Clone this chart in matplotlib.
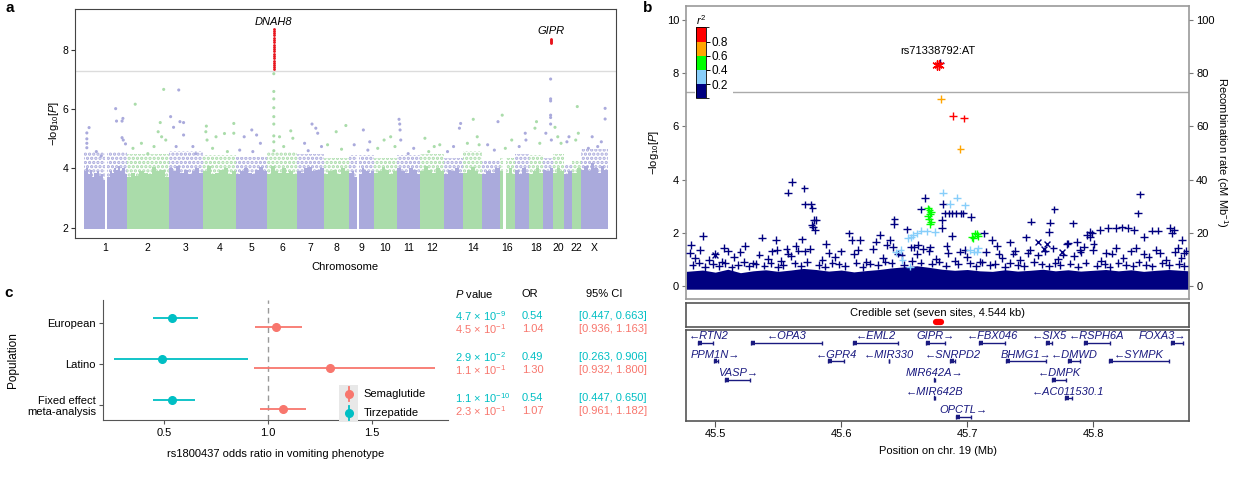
import numpy as np
import matplotlib
matplotlib.use("Agg")
import matplotlib.pyplot as plt
from matplotlib.colors import ListedColormap, BoundaryNorm
from matplotlib.patches import Rectangle
from matplotlib.lines import Line2D
import matplotlib.colorbar as mcolorbar

plt.rcParams['font.family'] = ['Liberation Sans', 'DejaVu Sans']
plt.rcParams['mathtext.fontset'] = 'custom'
plt.rcParams['mathtext.rm'] = 'Liberation Sans'
plt.rcParams['mathtext.it'] = 'Liberation Sans:italic'
plt.rcParams['mathtext.bf'] = 'Liberation Sans:bold'
plt.rcParams['hatch.linewidth'] = 1.6

W, H = 1247, 478

# ---- panel a : genome-wide scan ----
chrom_names = ['1', '2', '3', '4', '5', '6', '7', '8', '9', '10', '11', '12', '13', '14',
               '15', '16', '17', '18', '19', '20', '21', '22', 'X']
chrom_len = [249.3, 243.2, 198.0, 191.2, 180.9, 171.1, 159.1, 146.4, 141.2, 135.5, 135.0,
             133.9, 115.2, 107.3, 102.5, 90.4, 81.2, 78.1, 59.1, 63.0, 48.1, 51.3, 155.3]
chrom_ticks = ['1', '2', '3', '4', '5', '6', '7', '8', '9', '10', '11', '12', '14', '16',
               '18', '20', '22', 'X']

# top of the dense cloud, in equal bins along each chromosome (nan = no SNPs)
bulk_top = [
    [3.9, 4.0, 3.8, 3.95, 3.7, 3.85, 3.9, 3.75, 3.8, 3.6, np.nan, 3.7, 3.9, 3.85, 4.0, 3.95, 4.1, 3.9, 4.0, 3.8],
    [3.7, 3.85, 3.75, 3.9, 3.85, 3.8, 4.05, 3.9, 3.95, 3.7],
    [4.0, 3.9, 4.1, 3.85, 3.95, 3.8, 3.9, 4.0, 3.85],
    [3.9, 4.1, 3.8, 3.85, 3.95, 4.0, 3.8, 3.9],
    [3.8, 3.9, 4.0, 3.85, 3.8, 3.95, 4.05, 3.9],
    [3.8, 4.1, 3.9, 3.85, 4.0, 3.85, 3.9, 3.8],
    [3.9, 3.85, 4.0, 4.05, 3.9, 3.95, 4.0],
    [3.8, 3.9, 3.95, 3.8, 4.0, 3.9],
    [3.85, 3.9, 3.7, np.nan, 3.8, 4.0, 3.95, 3.9, 3.85, 3.9],
    [3.85, 3.9, 4.05, 3.95, 3.8, 3.9],
    [4.0, 3.9, 3.85, 4.0, 3.95, 3.8],
    [3.9, 4.1, 3.95, 3.85, 4.0, 3.9],
    [3.8, 3.95, 3.9, 4.0, 3.85],
    [3.85, 3.95, 4.05, 3.9, 3.8],
    [3.8, 3.9, 3.85, 4.0],
    [3.9, np.nan, 3.85, 4.0, 3.8],
    [3.95, 3.8, 4.0, 3.85],
    [3.8, 3.9, 4.0, 3.85],
    [3.95, 3.9, 4.0],
    [3.85, 4.0, 3.9],
    [3.8, 3.9],
    [3.85, 4.0],
    [3.95, 4.1, 3.9, 4.2, 4.0, 3.85, 4.1, 3.95],
]
# upper edge of the looser fringe of points above the dense cloud, one per chromosome
fringe_top = [4.55, 4.5, 4.6, 4.45, 4.4, 4.55, 4.5, 4.35, 4.45, 4.35, 4.45, 4.5, 4.35, 4.6,
              4.25, 4.35, 4.5, 4.45, 4.35, 4.5, 4.15, 4.3, 4.65]

# scattered SNPs above the dense cloud: chromosome, position (Mb), -log10 P
top_chr = ['1'] * 14 + ['2'] * 10 + ['3'] * 9 + ['4'] * 9 + ['5'] * 6 + ['6'] * 13 + ['7'] * 6 + \
          ['8'] * 4 + ['9'] * 4 + ['10'] * 4 + ['11'] * 6 + ['12'] * 4 + ['13'] * 4 + ['14'] * 4 + \
          ['15'] * 3 + ['16'] * 3 + ['17'] * 3 + ['18'] * 3 + ['19'] * 8 + ['20'] * 3 + ['21'] * 2 + \
          ['22'] * 3 + ['X'] * 6
top_pos = [31, 18, 18, 18, 18, 185, 190, 222, 227, 222, 229, 242, 73, 101,
           49, 194, 214, 182, 202, 158, 85, 122, 226, 36,
           11, 58, 65, 86, 28, 86, 140, 157, 43,
           20, 17, 24, 76, 125, 179, 179, 56, 142,
           92, 120, 48, 142, 22, 98,
           38.7, 38.7, 38.7, 38.7, 38.7, 38.7, 38.7, 38.7, 38.7, 96, 137, 149, 72,
           89, 111, 122, 46, 144, 67,
           126, 70, 20, 101,
           81, 118, 28, 107,
           98, 60, 23, 123,
           11, 15, 17, 21, 96, 64,
           26, 80, 112, 48,
           99, 92, 58, 23,
           57, 80, 23, 91,
           93, 33, 72,
           15, 70, 33,
           58, 62, 23,
           42, 33, 61,
           45.7, 45.7, 45.7, 45.7, 45.7, 45.7, 18, 50,
           12, 47, 28,
           30, 18,
           30, 36, 21,
           140, 140, 65, 97, 43, 118]
top_p = [5.38, 5.2, 5.0, 4.85, 4.7, 6.02, 5.6, 5.6, 5.69, 5.04, 4.96, 4.83, 4.57, 4.42,
         6.17, 5.55, 6.67, 5.24, 5.07, 4.74, 4.85, 4.5, 4.96, 4.68,
         5.75, 6.65, 5.58, 5.55, 5.39, 5.13, 4.74, 4.5, 4.74,
         5.43, 5.24, 4.96, 5.07, 5.18, 5.52, 5.19, 4.68, 4.57,
         5.3, 5.13, 5.07, 4.85, 4.62, 4.57,
         7.2, 6.6, 6.35, 6.05, 5.75, 5.5, 5.1, 4.9, 4.6, 4.74, 5.27, 5.02, 5.07,
         5.5, 5.36, 5.19, 4.85, 4.74, 4.6,
         5.45, 5.24, 4.8, 4.65,
         5.3, 4.9, 4.8, 4.62,
         5.07, 4.96, 4.68, 4.74,
         5.66, 5.5, 5.3, 4.96, 4.68, 4.5,
         5.02, 4.74, 4.8, 4.57,
         5.52, 5.36, 4.74, 4.57,
         5.66, 5.07, 4.85, 4.8,
         5.58, 4.8, 4.62,
         5.8, 4.96, 4.68,
         5.19, 4.96, 4.74,
         5.58, 5.36, 4.85,
         7.02, 6.35, 6.28, 5.8, 5.72, 5.5, 5.19, 4.96,
         5.39, 4.85, 5.07,
         5.07, 4.9,
         6.09, 5.19, 4.96,
         6.03, 5.67, 5.07, 4.74, 4.68, 4.9]

# genome-wide significant SNPs (red)
sig_chr = ['6'] * 19 + ['19'] * 5
sig_pos = [38.7] * 19 + [45.7] * 5
sig_p = [7.36, 7.42, 7.5, 7.57, 7.64, 7.72, 7.8, 7.87, 7.95, 8.02, 8.1, 8.18, 8.26, 8.34,
         8.42, 8.5, 8.58, 8.65, 8.72,
         8.24, 8.27, 8.3, 8.33, 8.36]
gene_hits = ['DNAH8', 'GIPR']
gene_hit_chr = ['6', '19']
gene_hit_pos = [38.7, 45.7]
gene_hit_y = [8.94, 8.64]

# ---- panel b : regional plot at GIPR ----
band_x = [45.477, 45.49, 45.50, 45.51, 45.52, 45.53, 45.54, 45.55, 45.56, 45.57, 45.58,
          45.59, 45.60, 45.61, 45.62, 45.63, 45.64, 45.65, 45.66, 45.67, 45.68, 45.69,
          45.70, 45.71, 45.72, 45.73, 45.74, 45.75, 45.76, 45.77, 45.78, 45.79, 45.80,
          45.81, 45.82, 45.83, 45.84, 45.85, 45.86, 45.876]
band_top = [0.55, 0.6, 0.52, 0.63, 0.5, 0.57, 0.61, 0.55, 0.6, 0.66, 0.62,
            0.56, 0.6, 0.53, 0.58, 0.62, 0.68, 0.72, 0.76, 0.7, 0.63, 0.59,
            0.62, 0.57, 0.55, 0.61, 0.56, 0.59, 0.63, 0.57, 0.61, 0.56, 0.59,
            0.62, 0.57, 0.61, 0.55, 0.59, 0.62, 0.57]

snp_pos = [45.5610, 45.5578, 45.5708, 45.5711, 45.5762, 45.5771, 45.5784, 45.5778, 45.5790,
           45.5800, 45.5765, 45.6667, 45.6632, 45.6422, 45.6419, 45.6524, 45.6810, 45.6800,
           45.6800, 45.6822, 45.6854, 45.6879, 45.6911, 45.6949, 45.6968, 45.7032, 45.6784,
           45.7133, 45.7197, 45.7340, 45.7467, 45.8371, 45.8356, 45.7692, 45.7505, 45.7657,
           45.7651, 45.7838, 45.7990, 45.8054, 45.8117, 45.8180, 45.8229, 45.8276, 45.8324,
           45.7975, 45.8467, 45.8514, 45.8610, 45.8640, 45.8705, 45.4905, 45.5371, 45.6060,
           45.4810, 45.5070, 45.5238, 45.5483, 45.5689, 45.5879, 45.6149, 45.6276, 45.6308,
           45.5488, 45.5567, 45.5638, 45.5712, 45.6082, 45.6135, 45.6386, 45.6413, 45.6360,
           45.6704, 45.6836, 45.6878, 45.6942, 45.7235, 45.7367, 45.7500, 45.7685, 45.7791,
           45.7870, 45.7897, 45.8003, 45.7976, 45.7950, 45.8403, 45.8625, 45.8673, 45.8720,
           45.8530, 45.8340, 45.8180, 45.8102, 45.7927, 45.7800,
           45.4840, 45.4950, 45.5050, 45.5150, 45.5300, 45.5420, 45.5520, 45.5600, 45.5850,
           45.5950, 45.6200, 45.6330, 45.6480, 45.6600, 45.6750, 45.6900, 45.7000, 45.7100,
           45.7280, 45.7420, 45.7560, 45.7720, 45.7850, 45.8060, 45.8240, 45.8440, 45.8580,
           45.8700, 45.6610, 45.6650, 45.6580,
           45.4800, 45.4880, 45.5000, 45.5100, 45.5200, 45.5350, 45.5450, 45.5580, 45.5660,
           45.5750, 45.5900, 45.6000, 45.6100, 45.6250, 45.6450, 45.6550, 45.6700, 45.6850,
           45.6980, 45.7150, 45.7250, 45.7380, 45.7480, 45.7620, 45.7760, 45.7900, 45.8000,
           45.8150, 45.8300, 45.8400, 45.8500, 45.8650, 45.8740,
           45.4820, 45.4870, 45.4920, 45.4980, 45.5030, 45.5080, 45.5130, 45.5180, 45.5230,
           45.5270, 45.5320, 45.5390, 45.5440, 45.5500, 45.5540, 45.5630, 45.5680, 45.5730,
           45.5820, 45.5870, 45.5930, 45.5980, 45.6030, 45.6120, 45.6170, 45.6230, 45.6290,
           45.6350, 45.6400, 45.6500, 45.6560, 45.6630, 45.6720, 45.6780, 45.6830, 45.6930,
           45.7020, 45.7070, 45.7120, 45.7180, 45.7220, 45.7300, 45.7340, 45.7400, 45.7450,
           45.7530, 45.7590, 45.7650, 45.7700, 45.7740, 45.7820, 45.7880, 45.7940, 45.8030,
           45.8090, 45.8130, 45.8200, 45.8260, 45.8320, 45.8360, 45.8420, 45.8470, 45.8550,
           45.8600, 45.8680, 45.8720,
           45.6810, 45.6921, 45.6863, 45.6981, 45.6530, 45.6557, 45.6570, 45.6600, 45.6637,
           45.6680, 45.6745, 45.7024, 45.7077, 45.7054, 45.7086, 45.6471, 45.6485, 45.6545,
           45.6435,
           45.6689, 45.6700, 45.6705, 45.6690, 45.6695, 45.6712, 45.6705, 45.6715,
           45.7035, 45.7050, 45.7060, 45.7077, 45.7086,
           45.6790, 45.6946, 45.6886, 45.6975]
snp_logp = [3.92, 3.51, 3.67, 3.07, 3.07, 2.92, 2.48, 2.23, 2.10,
            2.48, 2.29, 3.30, 2.88, 2.50, 2.33, 2.13, 3.08, 2.48,
            2.17, 2.73, 2.73, 2.73, 2.73, 2.73, 2.73, 2.60, 8.40,
            1.98, 1.73, 1.64, 1.83, 3.44, 2.73, 2.88, 2.42, 2.38,
            2.02, 2.35, 1.98, 2.10, 2.17, 2.19, 2.20, 2.17, 2.10,
            1.83, 2.08, 2.08, 2.19, 2.10, 1.73, 1.88, 1.82, 1.98,
            1.54, 1.42, 1.50, 1.73, 1.75, 1.57, 1.73, 1.67, 1.92,
            1.35, 1.40, 1.50, 1.30, 1.72, 1.35, 1.72, 1.47, 1.54,
            1.45, 1.50, 1.88, 1.29, 1.50, 1.22, 1.35, 1.41, 1.59,
            1.66, 1.35, 1.59, 2.04, 1.92, 1.85, 2.00, 1.42, 1.23,
            1.23, 1.42, 1.42, 1.23, 1.48, 1.60,
            1.05, 0.98, 0.92, 1.10, 0.85, 1.02, 0.95, 1.12, 0.98,
            1.08, 0.90, 1.05, 1.15, 1.20, 1.02, 0.95, 1.10, 0.92,
            1.05, 0.98, 1.15, 1.00, 1.12, 0.95, 1.05, 1.10, 0.98,
            1.05, 1.55, 1.38, 1.45,
            1.25, 1.35, 1.20, 1.30, 1.28, 1.18, 1.30, 1.22, 1.33,
            1.40, 1.25, 1.30, 1.20, 1.38, 1.22, 1.45, 1.30, 1.25,
            1.35, 1.28, 1.20, 1.32, 1.24, 1.30, 1.18, 1.26, 1.35,
            1.22, 1.30, 1.20, 1.36, 1.28, 1.32,
            0.78, 0.88, 0.72, 0.82, 0.75, 0.86, 0.70, 0.80, 0.90,
            0.74, 0.83, 0.77, 0.87, 0.72, 0.80, 0.85, 0.76, 0.91,
            0.79, 0.73, 0.86, 0.81, 0.75, 0.88, 0.72, 0.84, 0.78,
            0.92, 0.86, 0.80, 0.95, 0.88, 0.84, 0.92, 0.77, 0.82,
            0.85, 0.74, 0.89, 0.78, 0.83, 0.72, 0.87, 0.80, 0.76,
            0.90, 0.81, 0.74, 0.86, 0.79, 0.84, 0.73, 0.88, 0.77,
            0.82, 0.71, 0.86, 0.79, 0.75, 0.89, 0.80, 0.74, 0.85,
            0.78, 0.83, 0.76,
            3.51, 3.32, 3.08, 3.03, 1.80, 1.83, 1.91, 1.98, 2.08,
            2.05, 2.04, 1.35, 1.29, 1.29, 1.41, 1.35, 0.98, 0.73,
            1.26,
            2.92, 2.85, 2.70, 2.62, 2.50, 2.42, 2.33, 2.78,
            1.85, 1.79, 1.98, 1.95, 1.88,
            7.02, 5.15, 6.39, 6.30]
snp_r2 = [0.1] * 226 + [0.3] * 19 + [0.5] * 13 + [0.7, 0.7, 0.9, 0.9]

xsnp_pos = [45.4997, 45.7566, 45.7606, 45.7632, 45.7751]
xsnp_logp = [1.15, 1.66, 1.40, 1.59, 1.28]

lead_name = 'rs71338792:AT'
lead_pos = [45.6759, 45.6775]
lead_logp = [8.31, 8.31]

cred_start, cred_end = 45.6751, 45.6796

r2_bounds = [0, 0.2, 0.4, 0.6, 0.8, 1.0]
r2_colors = ['#000080', '#87CEFA', '#00FF00', '#FFA500', '#FF0000']

gene_names = ['RTN2', 'OPA3', 'EML2', 'GIPR', 'FBX046', 'SIX5', 'RSPH6A', 'FOXA3',
              'PPM1N', 'GPR4', 'MIR330', 'SNRPD2', 'BHMG1', 'DMWD', 'SYMPK',
              'VASP', 'MIR642A', 'DMPK', 'MIR642B', 'AC011530.1', 'OPCTL']
gene_start = [45.4863, 45.5286, 45.6092, 45.6673, 45.7095, 45.7629, 45.7927, 45.8619,
              45.4987, 45.5895, 45.6379, 45.6863, 45.7308, 45.7800, 45.8124,
              45.5079, 45.6738, 45.7673, 45.6738, 45.7775, 45.6911]
gene_end = [45.4981, 45.5848, 45.6451, 45.6822, 45.7298, 45.7673, 45.8133, 45.8714,
            45.5019, 45.6022, 45.6383, 45.6905, 45.7625, 45.7895, 45.8600,
            45.5276, 45.6742, 45.7784, 45.6742, 45.7832, 45.7032]
gene_strand = ['-', '-', '-', '+', '-', '-', '-', '+',
               '+', '-', '-', '-', '+', '-', '-',
               '+', '+', '-', '-', '-', '+']
gene_row = [0, 0, 0, 0, 0, 0, 0, 0,
            1, 1, 1, 1, 1, 1, 1,
            2, 2, 2, 3, 3, 4]

# ---- panel c : odds ratios ----
populations = ['European', 'Latino', 'Fixed effect\nmeta-analysis']
tirz_or = [0.54, 0.49, 0.54]
tirz_lo = [0.447, 0.263, 0.447]
tirz_hi = [0.663, 0.906, 0.650]
tirz_p = [4.7e-9, 2.9e-2, 1.1e-10]
sema_or = [1.04, 1.30, 1.07]
sema_lo = [0.936, 0.932, 0.961]
sema_hi = [1.163, 1.800, 1.182]
sema_p = [4.5e-1, 1.1e-1, 2.3e-1]

PURPLE = '#AAAADC'
GREEN = '#AADCAA'
TEAL = '#00BFC4'
SALMON = '#F8766D'
NAVY = '#1A1A80'


def fbox(l, t, r, b):
    return [l / W, 1 - b / H, (r - l) / W, (b - t) / H]


def sci(p):
    e = int(np.floor(np.log10(p)))
    m = p / 10 ** e
    return '%.1f \u00d7 10$^{%d}$' % (m, e)


def draw_manhattan(fig):
    ax = fig.add_axes(fbox(75.1, 9.3, 615.7, 237.7))
    offsets = np.concatenate([[0], np.cumsum(chrom_len)[:-1]])
    off = dict(zip(chrom_names, offsets))
    for i, name in enumerate(chrom_names):
        col = PURPLE if i % 2 == 0 else GREEN
        h = np.array(bulk_top[i])
        n = len(h)
        w = chrom_len[i] / n
        xs = offsets[i] + (np.arange(n) + 0.5) * w
        ok = ~np.isnan(h)
        ax.bar(xs[ok], h[ok] - 1.95, width=w, bottom=1.95, color=col, linewidth=0)
        # looser fringe of points drawn as a dotted band
        ax.bar(xs[ok], fringe_top[i] - h[ok], width=w, bottom=h[ok], facecolor='none',
               edgecolor=col, hatch='....', linewidth=0)
    colmap = {n: (PURPLE if i % 2 == 0 else GREEN) for i, n in enumerate(chrom_names)}
    tx = [off[c] + p for c, p in zip(top_chr, top_pos)]
    ax.scatter(tx, top_p, s=5, c=[colmap[c] for c in top_chr], linewidths=0)
    sx = [off[c] + p for c, p in zip(sig_chr, sig_pos)]
    ax.scatter(sx, sig_p, s=4, c='#E8141C', marker='o', linewidths=0)
    for g, c, p, y in zip(gene_hits, gene_hit_chr, gene_hit_pos, gene_hit_y):
        ax.text(off[c] + p, y, g, ha='center', va='center', fontsize=8, style='italic')
    ax.axhline(7.3, color='#DCDCDC', lw=1, zorder=0)
    ax.set_xlim(-50, sum(chrom_len) + 46)
    ax.set_ylim(1.662, 9.375)
    centers = {n: offsets[i] + chrom_len[i] / 2 for i, n in enumerate(chrom_names)}
    ax.set_xticks([centers[c] for c in chrom_ticks])
    ax.set_xticklabels(chrom_ticks)
    ax.set_yticks([2, 4, 6, 8])
    ax.tick_params(axis='x', length=0, pad=4, labelsize=7.5)
    ax.tick_params(axis='y', length=3, width=0.8, pad=2, labelsize=7.5, color='#333333')
    for s in ax.spines.values():
        s.set_color('#444444')
        s.set_linewidth(0.8)
    ax.set_xlabel('Chromosome', fontsize=8, labelpad=6)
    ax.set_ylabel('\u2212log$_{10}$[$P$]', fontsize=8, labelpad=1)


def draw_region(fig):
    ax = fig.add_axes(fbox(686, 6, 1189.3, 299.3))
    xlim = (45.4768, 45.8763)
    ax.set_xlim(*xlim)
    ax.set_ylim(-0.5, 10.526)
    ax.fill_between(band_x, -0.12, band_top, color='#000080', lw=0, zorder=1)
    cmap = ListedColormap(r2_colors)
    norm = BoundaryNorm(r2_bounds, cmap.N)
    cols = [cmap(norm(v)) for v in snp_r2]
    ax.scatter(snp_pos, snp_logp, marker='+', s=30, c=cols, linewidths=1.0, zorder=3)
    ax.scatter(xsnp_pos, xsnp_logp, marker='x', s=18, c='#000080', linewidths=1.0, zorder=3)
    ax.scatter(lead_pos, lead_logp, marker=(6, 2, 0), s=45, c='#FF0000', linewidths=1.0, zorder=4)
    ax.text(np.mean(lead_pos), 8.83, lead_name, ha='center', va='center', fontsize=8)
    ax.axhline(7.3, color='#AAAAAA', lw=1, zorder=0)
    ax.set_xticks([])
    ax.set_yticks([0, 2, 4, 6, 8, 10])
    ax.tick_params(axis='y', length=3, pad=2, labelsize=8, color='#777777')
    ax.set_ylabel('\u2212log$_{10}$[$P$]', fontsize=8, labelpad=4)
    for s in ax.spines.values():
        s.set_color('#999999')
        s.set_linewidth(1.2)
    ax2 = ax.twinx()
    ax2.set_ylim(-5, 105.26)
    ax2.set_yticks([0, 20, 40, 60, 80, 100])
    ax2.tick_params(axis='y', length=3, pad=2, labelsize=8, color='#777777')
    ax2.set_ylabel('Recombination rate (cM Mb$^{-1}$)', fontsize=8, rotation=270, labelpad=11)
    for s in ax2.spines.values():
        s.set_visible(False)

    # r2 legend
    fig.add_artist(Rectangle((695 / W, 1 - 100 / H), 38 / W, 88 / H, transform=fig.transFigure,
                             facecolor='white', edgecolor='none', zorder=3))
    cax = fig.add_axes(fbox(696, 27.3, 706, 98.3), zorder=4)
    cb = mcolorbar.ColorbarBase(cax, cmap=cmap, norm=norm, boundaries=r2_bounds,
                                ticks=[0.2, 0.4, 0.6, 0.8], orientation='vertical')
    cb.outline.set_linewidth(0.6)
    cax.tick_params(length=3, pad=1, labelsize=8.5, width=0.7)
    cax.set_title('$r^2$', fontsize=8, pad=1, loc='right')

    # credible set
    axc = fig.add_axes(fbox(686, 303.3, 1189.3, 326.7))
    axc.set_xlim(*xlim)
    axc.set_ylim(0, 1)
    axc.set_xticks([])
    axc.set_yticks([])
    axc.text(np.mean(xlim), 0.57, 'Credible set (seven sites, 4.544 kb)', ha='center', va='center',
             fontsize=8)
    axc.plot([cred_start, cred_end], [0.21, 0.21], color='#FF0000', lw=4.5, solid_capstyle='round')
    for s in axc.spines.values():
        s.set_color('#555555')
        s.set_linewidth(1.2)

    # genes
    axg = fig.add_axes(fbox(686, 330, 1189.3, 421))
    axg.set_xlim(*xlim)
    axg.set_ylim(-4.23, 0.69)
    texts = []
    for name, st, en, strand, row in zip(gene_names, gene_start, gene_end, gene_strand, gene_row):
        y = -row
        axg.plot([st, en], [y, y], color=NAVY, lw=1.0, solid_capstyle='butt')
        axg.plot([st, en], [y, y], color=NAVY, lw=0, marker='|', ms=3.5, mew=1.0)
        axg.plot([st, st + min(en - st, 0.003)], [y, y], color=NAVY, lw=3.2, solid_capstyle='butt')
        label = '\u2190' + name if strand == '-' else name + '\u2192'
        t = axg.text((st + en) / 2, y + 0.36, label, ha='center', va='center', fontsize=8,
                     style='italic', color=NAVY)
        texts.append(t)
    axg.set_yticks([])
    axg.set_xticks([45.5, 45.6, 45.7, 45.8])
    axg.set_xticklabels(['45.5', '45.6', '45.7', '45.8'])
    axg.tick_params(axis='x', length=4, pad=2, labelsize=8, color='#555555')
    axg.set_xlabel('Position on chr. 19 (Mb)', fontsize=8, labelpad=5)
    for s in axg.spines.values():
        s.set_color('#555555')
        s.set_linewidth(1.2)
    return axg, texts


def draw_forest(fig):
    ax = fig.add_axes(fbox(102.8, 300, 448, 420))
    ypos = np.array([3, 2, 1])
    d = 0.11
    ax.axvline(1.0, color='#999999', lw=1, dashes=(4, 3), zorder=0)
    ax.hlines(ypos - d, sema_lo, sema_hi, color=SALMON, lw=1.3)
    ax.plot(sema_or, ypos - d, 'o', color=SALMON, ms=5.5)
    ax.hlines(ypos + d, tirz_lo, tirz_hi, color=TEAL, lw=1.3)
    ax.plot(tirz_or, ypos + d, 'o', color=TEAL, ms=5.5)
    ax.set_xlim(0.2075, 1.864)
    ax.set_ylim(0.63, 3.56)
    ax.set_yticks(ypos)
    ax.set_yticklabels(populations, fontsize=8, linespacing=1.2)
    ax.set_xticks([0.5, 1.0, 1.5])
    ax.set_xticklabels(['0.5', '1.0', '1.5'])
    ax.tick_params(axis='x', length=3, pad=3, labelsize=8, color='#555555')
    ax.tick_params(axis='y', length=3, pad=2, labelsize=8, color='#555555')
    for s in ['top', 'right']:
        ax.spines[s].set_visible(False)
    for s in ['left', 'bottom']:
        ax.spines[s].set_color('#555555')
        ax.spines[s].set_linewidth(0.8)
    ax.set_xlabel('rs1800437 odds ratio in vomiting phenotype', fontsize=8, labelpad=8)
    ax.set_ylabel('Population', fontsize=8.5, labelpad=6)

    # table to the right
    tr = matplotlib.transforms.blended_transform_factory(fig.transFigure, ax.transData)
    fig.text(454.7 / W, 1 - 294 / H, '$P$ value', fontsize=8, va='center')
    fig.text(522 / W, 1 - 294 / H, 'OR', fontsize=8, va='center')
    fig.text(586 / W, 1 - 294 / H, '95% CI', fontsize=8, va='center')
    for i, y in enumerate(ypos):
        for col, yy, p, o, lo, hi in [(TEAL, y + 0.17, tirz_p[i], tirz_or[i], tirz_lo[i], tirz_hi[i]),
                                      (SALMON, y - 0.15, sema_p[i], sema_or[i], sema_lo[i], sema_hi[i])]:
            fig.text(454.7 / W, yy, sci(p), fontsize=8, color=col, va='center', transform=tr)
            fig.text(522 / W, yy, '%.2f' % o, fontsize=8, color=col, va='center', transform=tr)
            fig.text(579 / W, yy, '[%.3f, %.3f]' % (lo, hi), fontsize=8, color=col, va='center',
                     transform=tr)

    # legend
    for k, (name, col) in enumerate([('Semaglutide', SALMON), ('Tirzepatide', TEAL)]):
        top = 385 + k * 18.5
        fig.add_artist(Rectangle((339 / W, 1 - (top + 18.5) / H), 19 / W, 18.5 / H,
                                 transform=fig.transFigure, facecolor='#E8E8E8', edgecolor='none'))
        cy = 1 - (top + 9.25) / H
        fig.add_artist(Line2D([348.5 / W, 348.5 / W], [cy - 7 / H, cy + 7 / H], color=col, lw=1.3,
                              transform=fig.transFigure))
        fig.add_artist(Line2D([348.5 / W], [cy], marker='o', ms=5.5, color=col, lw=0,
                              transform=fig.transFigure))
        fig.text(363.8 / W, cy, name, fontsize=8, va='center')


def main():
    fig = plt.figure(figsize=(W / 100, H / 100), dpi=100)
    draw_manhattan(fig)
    axg, texts = draw_region(fig)
    draw_forest(fig)

    fig.text(6 / W, 1 - 1 / H, 'a', fontsize=11, fontweight='bold', va='top')
    fig.text(643 / W, 1 - 1 / H, 'b', fontsize=11, fontweight='bold', va='top')
    fig.text(4 / W, 1 - 286 / H, 'c', fontsize=11, fontweight='bold', va='top')

    # keep gene labels inside the gene box
    fig.canvas.draw()
    r = fig.canvas.get_renderer()
    abb = axg.get_window_extent(r)
    for t in texts:
        bb = t.get_window_extent(r)
        dx = 0
        if bb.x1 > abb.x1 - 3:
            dx = abb.x1 - 3 - bb.x1
        elif bb.x0 < abb.x0 + 3:
            dx = abb.x0 + 3 - bb.x0
        if dx:
            x, y = t.get_position()
            xd = axg.transData.transform((x, y))
            t.set_position((axg.transData.inverted().transform((xd[0] + dx, xd[1]))[0], y))

    fig.savefig('out.png', dpi=100)


if __name__ == "__main__":
    main()
